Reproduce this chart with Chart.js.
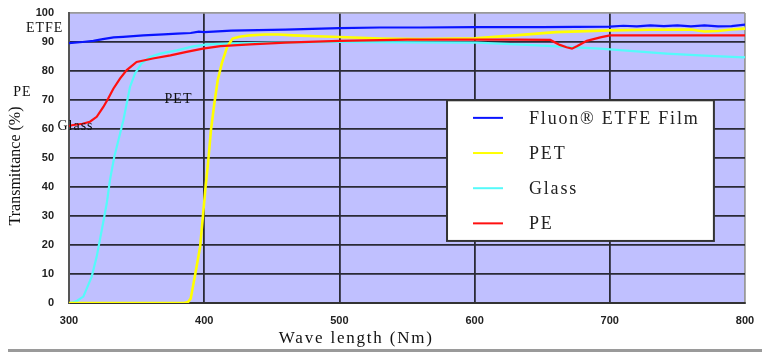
<!DOCTYPE html>
<html><head><meta charset="utf-8">
<script src="https://cdn.jsdelivr.net/npm/chart.js@4/dist/chart.umd.min.js"></script>
<style>html,body{margin:0;padding:0;background:#fff;}#wrap{width:770px;height:352px;position:relative;}</style>
</head><body><div id="wrap"><canvas id="c" width="770" height="352"></canvas></div>
<script>
// ---- data ----
const xTicks = [300, 400, 500, 600, 700, 800];
const yTicks = [0, 10, 20, 30, 40, 50, 60, 70, 80, 90, 100];
const seriesNames = ['Fluon® ETFE Film', 'PET', 'Glass', 'PE'];

const etfeWave = [300, 310, 318, 325, 333, 340, 355, 370, 380, 390, 396, 400, 420, 440, 460, 480, 500, 530, 560, 600, 650, 700, 710, 720, 730, 740, 750, 760, 770, 780, 790, 800];
const etfeT    = [89.6, 90.0, 90.4, 91.0, 91.6, 91.8, 92.3, 92.6, 92.9, 93.1, 93.6, 93.4, 93.9, 94.1, 94.3, 94.5, 94.8, 95.0, 95.0, 95.1, 95.1, 95.3, 95.6, 95.4, 95.7, 95.5, 95.7, 95.4, 95.7, 95.4, 95.5, 96.0];

const petWave = [300, 340, 385, 388, 390, 393, 397, 399, 401, 403, 405, 407.5, 410, 413, 417, 421, 426, 434, 445, 455, 466, 483, 500, 530, 560, 600, 630, 660, 700, 730, 760, 770, 780, 790, 800];
const petT    = [0, 0, 0, 0.3, 1.5, 9, 19.4, 29.7, 40, 49, 59.6, 68.8, 76.8, 82.6, 88.3, 91.2, 91.8, 92.3, 92.6, 92.6, 92.3, 92.0, 91.7, 91.2, 91.0, 91.3, 92.3, 93.4, 94.0, 94.2, 94.3, 93.6, 93.8, 94.3, 94.6];

const glassWave = [300, 302, 306, 310.6, 316.8, 320.5, 324.2, 327.9, 330.3, 333.5, 337.2, 340.2, 342.7, 345.1, 348.8, 353.7, 359.9, 367.3, 379.7, 391.9, 401.8, 421, 450, 500, 550, 601.6, 643, 692.8, 742, 770, 798.5, 800];
const glassT    = [0, 0.1, 0.8, 2.2, 9.1, 16, 25.1, 34.3, 42.4, 50.4, 57.3, 63, 68.8, 74.5, 79.1, 82.6, 84.8, 86, 87.1, 88.5, 89.2, 89.5, 89.8, 90.0, 89.9, 89.8, 88.9, 87.7, 86.0, 85.3, 84.7, 84.8];

const peWave = [300, 302, 310, 315.5, 320.5, 325.4, 329, 332.8, 337.7, 342.7, 350, 362, 375, 387, 399, 412, 434, 460, 500, 550, 600, 630, 656, 663, 668, 672, 676, 683, 693, 700, 750, 800];
const peT    = [61, 61.3, 61.8, 62.5, 64.2, 67.6, 70.5, 73.9, 77.4, 80.3, 83.1, 84.3, 85.4, 86.6, 87.7, 88.6, 89.2, 89.8, 90.4, 90.8, 90.8, 90.8, 90.7, 89.0, 88.2, 87.7, 88.6, 90.4, 91.6, 92.3, 92.3, 92.3];

// text annotations (label, wavelength, transmittance)
const noteLabels = ['ETFE', 'PE', 'PET', 'Glass'];
const noteWave   = [282, 265.5, 381, 304.8];
const noteT      = [94.8, 72.8, 70.3, 60.8];

const xTitle = 'Wave length (Nm)';
const yTitle = 'Transmittance (%)';

function pts(xs, ys) { return xs.map((x, i) => ({ x: x, y: ys[i] })); }

const colors = ['#0a14ff', '#ffff00', '#55fafa', '#ff1010'];

const deco = {
  id: 'deco',
  beforeDraw(chart) {
    const { ctx, chartArea: a } = chart;
    ctx.save();
    ctx.fillStyle = '#c0c0ff';
    ctx.fillRect(a.left, a.top, a.right - a.left, a.bottom - a.top);
    ctx.restore();
  },
  afterDraw(chart) {
    const { ctx, chartArea: a, scales } = chart;
    const xs = scales.x, ys = scales.y;
    ctx.save();
    // annotations
    ctx.fillStyle = '#111';
    ctx.font = '14px "Liberation Serif", serif';
    ctx.textAlign = 'center';
    ctx.textBaseline = 'middle';
    ctx.letterSpacing = '1px';
    noteLabels.forEach((t, i) => {
      ctx.fillText(t, xs.getPixelForValue(noteWave[i]), ys.getPixelForValue(noteT[i]));
    });
    // legend box
    const bx0 = xs.getPixelForValue(579.6), bx1 = xs.getPixelForValue(777);
    const by0 = ys.getPixelForValue(69.9), by1 = ys.getPixelForValue(21.4);
    ctx.fillStyle = '#ffffff';
    ctx.fillRect(bx0, by0, bx1 - bx0, by1 - by0);
    ctx.strokeStyle = '#333';
    ctx.lineWidth = 2;
    ctx.strokeRect(bx0, by0, bx1 - bx0, by1 - by0);
    const rowH = (by1 - by0) / 4;
    ctx.font = '18px "Liberation Serif", serif';
    ctx.textAlign = 'left';
    ctx.letterSpacing = '1.8px';
    chart.data.datasets.forEach((ds, i) => {
      const yy = by0 + rowH * (i + 0.5);
      ctx.strokeStyle = ds.borderColor;
      ctx.lineWidth = 2;
      ctx.beginPath();
      ctx.moveTo(bx0 + 26, yy);
      ctx.lineTo(bx0 + 56, yy);
      ctx.stroke();
      ctx.fillStyle = '#222';
      ctx.fillText(ds.label, bx0 + 82, yy + 1);
    });
    // axis titles
    ctx.fillStyle = '#111';
    ctx.font = '17px "Liberation Serif", serif';
    ctx.textAlign = 'center';
    ctx.letterSpacing = '1.8px';
    ctx.fillText(xTitle, a.left + (a.right - a.left) * 0.425, 339);
    ctx.save();
    ctx.translate(16, 166);
    ctx.rotate(-Math.PI / 2);
    ctx.font = '16px "Liberation Serif", serif';
    ctx.letterSpacing = '0px';
    ctx.fillText(yTitle, 0, 0);
    ctx.restore();
    // bottom rule
    ctx.strokeStyle = '#9a9a9a';
    ctx.lineWidth = 3;
    ctx.beginPath();
    ctx.moveTo(8, 350.5);
    ctx.lineTo(762, 350.5);
    ctx.stroke();
    ctx.restore();
  }
};

new Chart(document.getElementById('c'), {
  type: 'line',
  data: {
    datasets: [
      { label: seriesNames[0], data: pts(etfeWave, etfeT), borderColor: colors[0], order: 0 },
      { label: seriesNames[1], data: pts(petWave, petT), borderColor: colors[1], borderWidth: 2.6, order: 2 },
      { label: seriesNames[2], data: pts(glassWave, glassT), borderColor: colors[2], order: 3 },
      { label: seriesNames[3], data: pts(peWave, peT), borderColor: colors[3], order: 1 }
    ]
  },
  options: {
    responsive: false,
    animation: false,
    devicePixelRatio: 1,
    layout: { autoPadding: false, padding: { top: 13, right: 25, left: 0, bottom: 0 } },
    elements: { point: { radius: 0 }, line: { borderWidth: 2.2, tension: 0 } },
    plugins: { legend: { display: false }, tooltip: { enabled: false } },
    scales: {
      x: {
        type: 'linear', min: 300, max: 800,
        afterBuildTicks: s => { s.ticks = xTicks.map(v => ({ value: v })); },
        afterFit: s => { s.height = 49; s.paddingLeft = 0; s.paddingRight = 0; },
        ticks: { font: { family: 'Arial, "Liberation Sans"', size: 11, weight: 'bold' }, color: '#222', padding: 11, maxRotation: 0 },
        grid: { drawTicks: false, lineWidth: 1.8, color: c => (c.tick && c.tick.value === 800 ? '#999' : '#2a2a36') },
        border: { color: '#333', width: 2 }
      },
      y: {
        min: 0, max: 100,
        afterBuildTicks: s => { s.ticks = yTicks.map(v => ({ value: v })); },
        afterFit: s => { s.width = 69; s.paddingTop = 0; s.paddingBottom = 0; },
        ticks: { font: { family: 'Arial, "Liberation Sans"', size: 11, weight: 'bold' }, color: '#222', padding: 15 },
        grid: { drawTicks: false, lineWidth: 1.8, color: c => (c.tick && c.tick.value === 100 ? '#999' : '#2a2a36') },
        border: { color: '#555', width: 2 }
      }
    }
  },
  plugins: [deco]
});
</script>
</body></html>
